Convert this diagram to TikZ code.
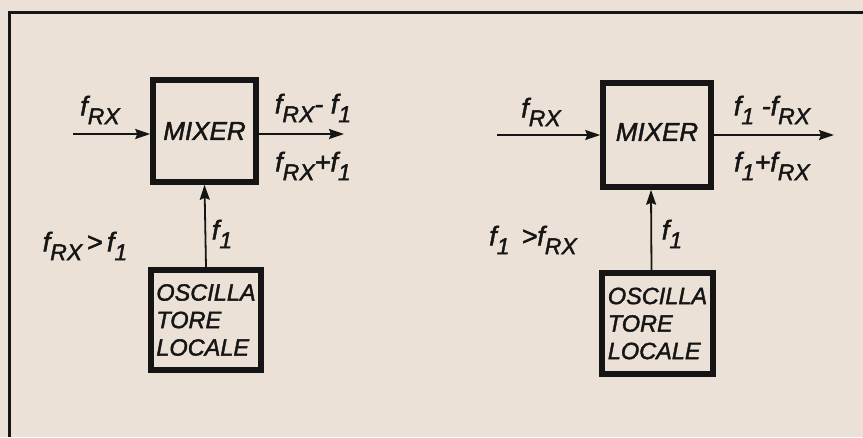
\documentclass[tikz,border=0pt]{standalone}
\usepackage{fontspec}
\setmainfont{Liberation Sans}
\newfontfamily\hand[FakeBold=1.7]{Liberation Sans}
\usetikzlibrary{arrows.meta}
\definecolor{paper}{HTML}{EBE1D6}
\definecolor{ink}{HTML}{151515}
\newcommand{\lowsub}[1]{\raisebox{-0.33em}{\fontsize{23}{23}\selectfont #1}}
\tikzset{
  lbl/.style={font=\hand\itshape\fontsize{27}{30}\selectfont, text=ink, inner sep=0pt},
  mixbox/.style={draw=ink, fill=paper, line width=5.5pt, font=\hand\itshape\fontsize{26}{27}\selectfont, text=ink, inner sep=0pt},
  oscbox/.style={draw=ink, fill=paper, line width=5.5pt, font=\hand\itshape\fontsize{23.5}{27.5}\selectfont, text=ink, align=left, inner sep=0pt},
  sig/.style={draw=ink, line width=1.8pt, -{Stealth[length=15pt,width=10pt,inset=2pt]}},
}
\begin{document}
\begin{tikzpicture}[x=1pt,y=-1pt]
\useasboundingbox (0,0) rectangle (863,437);
\fill[paper] (0,0) rectangle (863,437);
\draw[ink, line width=3pt] (9,437) -- (9,12) -- (863,12);

% left diagram
\node[mixbox, minimum width=103pt, minimum height=102pt] (mix1) at (204.5,131) {MIXER};
\node[oscbox, minimum width=110pt, minimum height=100pt] (osc1) at (206,320) {OSCILLA\\TORE\\LOCALE};
\coordinate (in1) at (73,134);
\coordinate (out1) at (344,134);
\draw[sig] (in1) -- (in1 -| mix1.west);
\draw[sig] (out1 -| mix1.east) -- (out1);
\draw[sig] (osc1.north) -- (mix1.south);
\node[lbl] (l1a) at (100,110) {f\lowsub{RX}};
\node[lbl] (l1b) at (313,108) {f\lowsub{RX}- f\lowsub{1}};
\node[lbl] (l1c) at (313,166) {f\lowsub{RX}+f\lowsub{1}};
\node[lbl] (l1d) at (85,246) {f\lowsub{RX}\,>\,f\lowsub{1}};
\node[lbl] (l1e) at (222,234) {f\lowsub{1}};

% right diagram
\node[mixbox, minimum width=108pt, minimum height=104pt] (mix2) at (657,135) {\raisebox{6pt}{MIXER}};
\node[oscbox, minimum width=111pt, minimum height=101pt] (osc2) at (657.5,323.5) {OSCILLA\\TORE\\LOCALE};
\coordinate (in2) at (497,135);
\coordinate (out2) at (834,135);
\draw[sig] (in2) -- (in2 -| mix2.west);
\draw[sig] (out2 -| mix2.east) -- (out2);
\draw[sig] ([xshift=-6pt]osc2.north) -- ([xshift=-6pt]mix2.south);
\node[lbl] (l2a) at (541,112) {f\lowsub{RX}};
\node[lbl] (l2b) at (772,110) {f\lowsub{1} -f\lowsub{RX}};
\node[lbl] (l2c) at (772,166) {f\lowsub{1}+f\lowsub{RX}};
\node[lbl] (l2d) at (533,240) {f\lowsub{1} \,>f\lowsub{RX}};
\node[lbl] (l2e) at (672,234) {f\lowsub{1}};
\end{tikzpicture}
\end{document}
